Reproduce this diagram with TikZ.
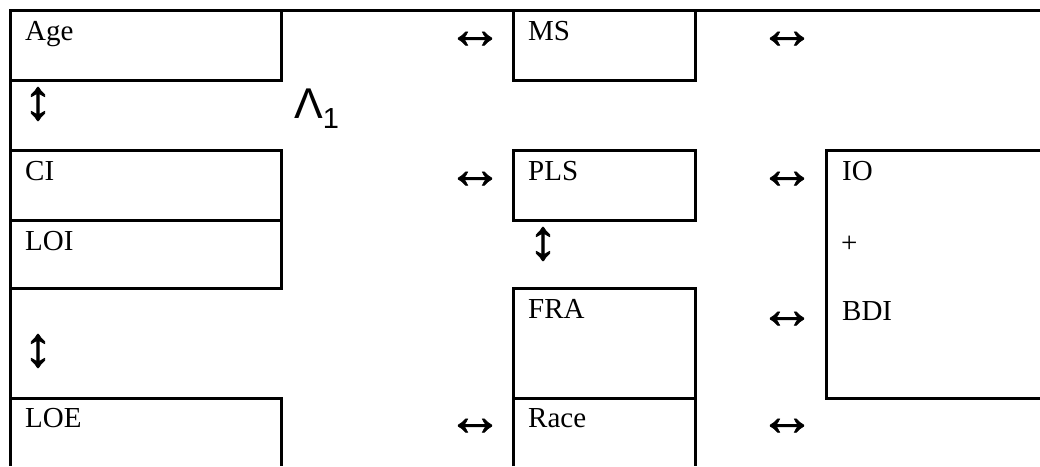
\documentclass[tikz,border=0pt]{standalone}
\usepackage{fontspec}
\setmainfont{Liberation Serif}
\newfontfamily\lamfont{Liberation Sans}
\newfontfamily\arrowfont[FakeBold=1.2]{Liberation Serif}
\begin{document}
\begin{tikzpicture}[x=1pt,y=-1pt,
  tablerule/.style={draw,line width=3.0pt},
  cell/.style={draw,line width=3.0pt,rectangle,inner sep=0pt,outer sep=0pt,anchor=north west},
  lbl/.style={inner sep=0pt,anchor=base west,font=\fontsize{29}{34}\selectfont},
  harrow/.style={inner sep=0pt,font=\arrowfont\fontsize{57}{57}\selectfont},
  varrow/.style={inner sep=0pt,font=\arrowfont\fontsize{57}{57}\selectfont}]
\useasboundingbox (0,0) rectangle (1040,466);

% outer frame: top rule and left rule
\coordinate (tl) at (10,10);
\coordinate (tr) at (1040,10);
\coordinate (bl) at (10,466);
\path[tablerule] (tr) -- (tl) -- (bl);

% left column cells
\node[cell,minimum width=271pt,minimum height=70pt] (age) at (10,10) {};
\node[cell,minimum width=271pt,minimum height=70pt] (ci) at (10,150) {};
\node[cell,minimum width=271pt,minimum height=68pt] (loi) at (10,220) {};
\coordinate (loeA) at (10,398);
\coordinate (loeB) at (281,398);
\coordinate (loeC) at (281,466);
\path[tablerule] (loeA) -- (loeB) -- (loeC);

% middle column cells
\node[cell,minimum width=182pt,minimum height=70pt] (ms) at (513,10) {};
\node[cell,minimum width=182pt,minimum height=70pt] (pls) at (513,150) {};
\node[cell,minimum width=182pt,minimum height=110pt] (fra) at (513,288) {};
\coordinate (raceA) at (513,466);
\coordinate (raceB) at (513,398);
\coordinate (raceC) at (695,398);
\coordinate (raceD) at (695,466);
\path[tablerule] (raceA) -- (raceB) -- (raceC) -- (raceD);

% right column cell
\coordinate (ioA) at (1040,150);
\coordinate (ioB) at (826,150);
\coordinate (ioC) at (826,398);
\coordinate (ioD) at (1040,398);
\path[tablerule] (ioA) -- (ioB) -- (ioC) -- (ioD);

% cell labels
\node[lbl] (tAge) at (25,40) {Age};
\node[lbl] (tCI) at (25,180) {CI};
\node[lbl] (tLOI) at (25,250) {LOI};
\node[lbl] (tLOE) at (25,427) {LOE};
\node[lbl] (tMS) at (528,40) {MS};
\node[lbl] (tPLS) at (528,180) {PLS};
\node[lbl] (tFRA) at (528,318) {FRA};
\node[lbl] (tRace) at (528,427) {Race};
\node[lbl] (tIO) at (842,180) {IO};
\node[lbl] (tPlus) at (841,252) {+};
\node[lbl] (tBDI) at (842,320) {BDI};

% lambda
\node[inner sep=0pt,anchor=base west] (lam) at (294,118)
  {\lamfont\fontsize{43}{43}\selectfont Λ\raisebox{-10pt}{\fontsize{29}{29}\selectfont 1}};

% horizontal arrows
\node[harrow] (h1) at (475,40) {↔};
\node[harrow] (h2) at (787,40) {↔};
\node[harrow] (h3) at (475,180) {↔};
\node[harrow] (h4) at (787,180) {↔};
\node[harrow] (h5) at (787,320) {↔};
\node[harrow] (h6) at (475,427) {↔};
\node[harrow] (h7) at (787,427) {↔};

% vertical arrows
\node[varrow] (v1) at (38,104) {↕};
\node[varrow] (v2) at (38,351) {↕};
\node[varrow] (v3) at (543,244) {↕};
\end{tikzpicture}
\end{document}
